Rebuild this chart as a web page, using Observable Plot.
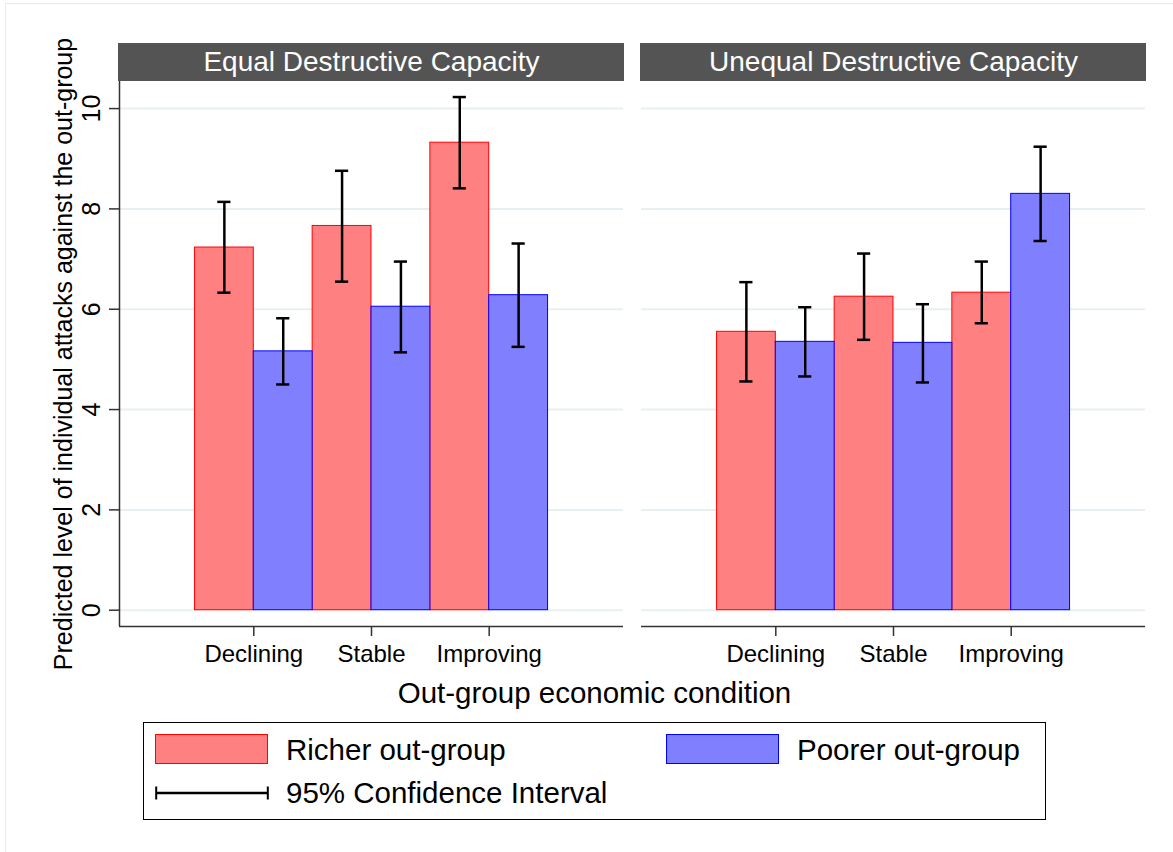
<!DOCTYPE html>
<html><head><meta charset="utf-8">
<script src="https://cdn.jsdelivr.net/npm/d3@7"></script>
<script src="https://cdn.jsdelivr.net/npm/@observablehq/plot@0.6"></script>
<style>
body{margin:0;background:#fff;font-family:"Liberation Sans",Arial,Helvetica,sans-serif;}
#wrap{position:relative;width:1173px;height:852px;overflow:hidden;background:#fff;}
#border{position:absolute;left:5px;top:3px;right:-5px;bottom:-5px;border-left:1px solid #e4ecef;border-top:1px solid #e4ecef;}
#chart{position:absolute;left:0;top:0;}
#legend{position:absolute;left:143px;top:722px;width:903px;height:98px;border:1.5px solid #000;box-sizing:border-box;background:#fff;}
.sw{position:absolute;top:11px;width:113px;height:30px;box-sizing:border-box;}
.lt{position:absolute;font-size:29.5px;line-height:30px;color:#000;white-space:nowrap;}
</style></head><body>
<div id="wrap"><div id="border"></div><div id="chart"></div>
<div id="legend">
  <div class="sw" style="left:11px;background:#ff8080;border:1px solid #ff0000;"></div>
  <div class="lt" id="lg0" style="left:142px;top:12px;"></div>
  <div class="sw" style="left:522px;background:#8080ff;border:1px solid #0000ff;"></div>
  <div class="lt" id="lg1" style="left:653px;top:12px;"></div>
  <svg style="position:absolute;left:11px;top:62px" width="115" height="16"><line x1="1" y1="8" x2="113" y2="8" stroke="#000" stroke-width="2.5"/><line x1="1.2" y1="1.5" x2="1.2" y2="14.5" stroke="#000" stroke-width="2"/><line x1="112.8" y1="1.5" x2="112.8" y2="14.5" stroke="#000" stroke-width="2"/></svg>
  <div class="lt" id="lg2" style="left:142px;top:55px;"></div>
</div>
</div>
<script>
const panels = ["Equal Destructive Capacity", "Unequal Destructive Capacity"];
const conditions = ["Declining", "Stable", "Improving"];
const groups = ["Richer out-group", "Poorer out-group"];
const ciLabel = "95% Confidence Interval";
const yTitle = "Predicted level of individual attacks against the out-group";
const xTitle = "Out-group economic condition";
const yTicks = [0, 2, 4, 6, 8, 10];

// Equal destructive capacity
const equalRicher = [7.23, 7.66, 9.32];
const equalRicherLo = [6.33, 6.55, 8.41];
const equalRicherHi = [8.14, 8.76, 10.23];
const equalPoorer = [5.16, 6.05, 6.28];
const equalPoorerLo = [4.50, 5.14, 5.25];
const equalPoorerHi = [5.82, 6.95, 7.31];
// Unequal destructive capacity
const unequalRicher = [5.55, 6.25, 6.33];
const unequalRicherLo = [4.56, 5.39, 5.72];
const unequalRicherHi = [6.54, 7.11, 6.95];
const unequalPoorer = [5.35, 5.33, 8.30];
const unequalPoorerLo = [4.66, 4.54, 7.36];
const unequalPoorerHi = [6.04, 6.10, 9.24];

const series = [
  [panels[0], 0, equalRicher, equalRicherLo, equalRicherHi],
  [panels[0], 1, equalPoorer, equalPoorerLo, equalPoorerHi],
  [panels[1], 0, unequalRicher, unequalRicherLo, unequalRicherHi],
  [panels[1], 1, unequalPoorer, unequalPoorerLo, unequalPoorerHi]
];
const rows = [];
for (const [panel, gi, v, lo, hi] of series) {
  conditions.forEach((c, ci) => rows.push({panel, gi, ci, cond: c, group: groups[gi], value: v[ci], lo: lo[ci], hi: hi[ci]}));
}

document.getElementById("lg0").textContent = groups[0];
document.getElementById("lg1").textContent = groups[1];
document.getElementById("lg2").textContent = ciLabel;

const xDomain = [-0.141, 4.141];
const yDomain = [-0.325, 10.54];
const cap = 0.056;
const bx1 = r => r.ci + 1 + (r.gi === 0 ? -0.5 : 0);
const bx2 = r => r.ci + 1 + (r.gi === 0 ? 0 : 0.5);
const bc = r => r.ci + 1 + (r.gi === 0 ? -0.25 : 0.25);
const rich = rows.filter(r => r.gi === 0);
const poor = rows.filter(r => r.gi === 1);

const chart = Plot.plot({
  width: 1173,
  height: 715,
  marginTop: 81,
  marginLeft: 119,
  marginRight: 28,
  marginBottom: 89,
  style: {fontFamily: '"Liberation Sans", Arial, Helvetica, sans-serif', background: "transparent"},
  fx: {domain: panels, paddingInner: 0.0345, paddingOuter: 0, round: false, axis: null, label: null},
  x: {domain: xDomain, axis: null},
  y: {domain: yDomain, axis: null},
  marks: [
    Plot.ruleY(yTicks, {stroke: "#e8eff2", strokeWidth: 2}),
    Plot.rect(panels, {fx: d => d, x1: xDomain[0], x2: xDomain[1], y1: yDomain[1], y2: yDomain[1], insetTop: -38, insetLeft: -1, insetRight: -1, fill: "#545454"}),
    Plot.text(panels, {fx: d => d, text: d => d, frameAnchor: "top", dy: -19, fill: "white", fontSize: 28, lineAnchor: "middle"}),
    Plot.rect(rich, {fx: "panel", x1: bx1, x2: bx2, y1: 0, y2: "value", fill: "#ff8080", stroke: "#ff0000", strokeWidth: 1}),
    Plot.rect(poor, {fx: "panel", x1: bx1, x2: bx2, y1: 0, y2: "value", fill: "#8080ff", stroke: "#0000ff", strokeWidth: 1}),
    Plot.ruleX(rows, {fx: "panel", x: bc, y1: "lo", y2: "hi", stroke: "black", strokeWidth: 2.5}),
    Plot.ruleY(rows, {fx: "panel", y: "hi", x1: r => bc(r) - cap, x2: r => bc(r) + cap, stroke: "black", strokeWidth: 2.5}),
    Plot.ruleY(rows, {fx: "panel", y: "lo", x1: r => bc(r) - cap, x2: r => bc(r) + cap, stroke: "black", strokeWidth: 2.5}),
    Plot.ruleY([yDomain[0]], {stroke: "#333", strokeWidth: 1.5}),
    Plot.ruleX([panels[0]], {fx: d => d, x: xDomain[0], y1: yDomain[0], y2: yDomain[1], stroke: "#333", strokeWidth: 1.5}),
    Plot.axisX([1, 2, 3], {tickFormat: d => conditions[d - 1], tickSize: 10, tickPadding: 8, fontSize: 24, label: null, stroke: "#333", strokeWidth: 1.5, fill: "black"}),
    Plot.axisY(yTicks, {tickFormat: d => String(d), tickSize: 10, tickRotate: -90, tickPadding: 10, fontSize: 25, label: null, stroke: "#333", strokeWidth: 1.5, fill: "black"}),
    Plot.text([yTitle], {fx: () => panels[0], text: d => d, frameAnchor: "left", rotate: -90, dx: -48, textAnchor: "middle", lineAnchor: "bottom", fontSize: 25, fill: "black"}),
    Plot.text([xTitle], {fx: () => panels[0], text: d => d, frameAnchor: "bottom", dx: 223, dy: 67, lineAnchor: "middle", fontSize: 29.5, fill: "black"})
  ]
});
document.getElementById("chart").appendChild(chart);
</script>
</body></html>
